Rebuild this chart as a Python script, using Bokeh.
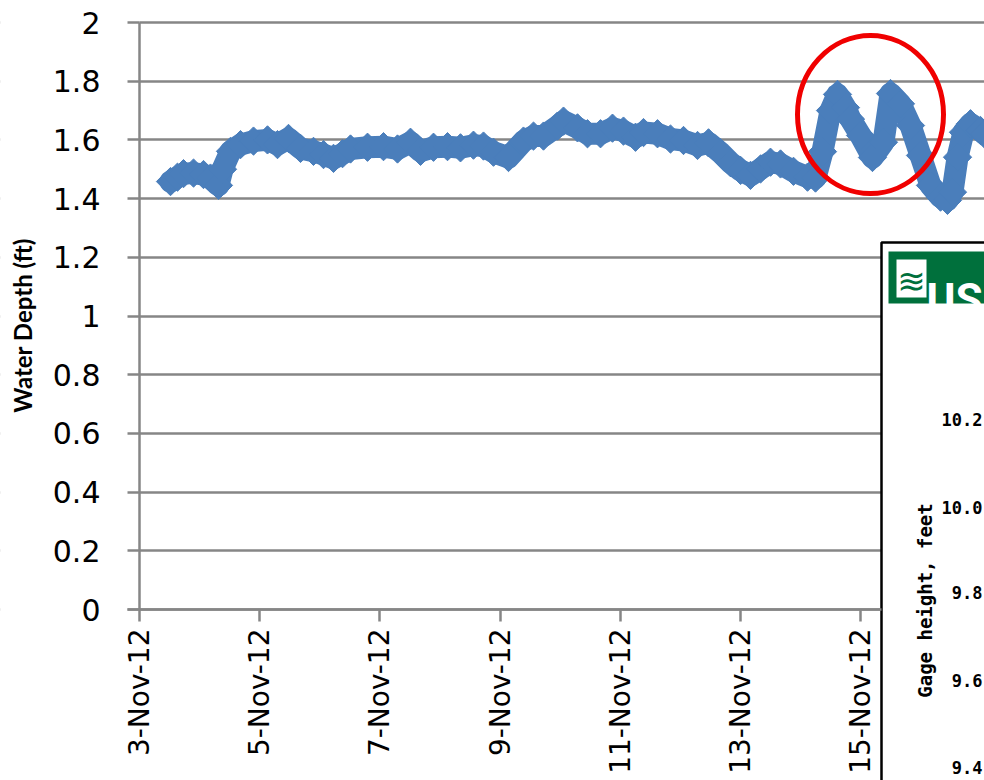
import numpy as np
from bokeh.plotting import figure
from bokeh.models import FixedTicker, NumeralTickFormatter, Range1d
from bokeh.core.properties import value
from bokeh.embed import file_html
from bokeh.resources import INLINE

# ---- data: water depth (ft) against day of November 2012 ----
day = [3.516, 3.632, 3.732, 3.899, 4.065, 4.181, 4.314, 4.381, 4.514, 4.681,
       4.897, 5.130, 5.296, 5.479, 5.679, 5.895, 6.062, 6.228, 6.378, 6.511,
       6.794, 7.060, 7.293, 7.509, 7.676, 7.892, 8.125, 8.341, 8.557, 8.724,
       8.890, 9.140, 9.389, 9.556, 9.722, 9.955, 10.055, 10.288, 10.454, 10.671,
       10.870, 11.053, 11.253, 11.386, 11.619, 11.835, 12.052, 12.285, 12.468, 12.669,
       12.835, 13.002, 13.166, 13.334, 13.499, 13.666, 13.882, 14.115, 14.248, 14.364,
       14.498, 14.614, 14.747, 14.830, 14.997, 15.196, 15.379, 15.496, 15.662, 15.829,
       15.995, 16.161, 16.328, 16.444, 16.527, 16.611, 16.710, 16.827, 16.993, 17.060]
depth = [1.458, 1.473, 1.485, 1.487, 1.482, 1.470, 1.445, 1.500, 1.561, 1.584,
         1.596, 1.600, 1.584, 1.605, 1.571, 1.561, 1.550, 1.537, 1.553, 1.569,
         1.575, 1.577, 1.569, 1.592, 1.561, 1.575, 1.577, 1.573, 1.582, 1.579,
         1.558, 1.540, 1.596, 1.613, 1.613, 1.647, 1.664, 1.641, 1.621, 1.621,
         1.640, 1.630, 1.609, 1.625, 1.621, 1.603, 1.598, 1.581, 1.590, 1.556,
         1.522, 1.496, 1.479, 1.501, 1.524, 1.518, 1.493, 1.473, 1.470, 1.560,
         1.700, 1.755, 1.710, 1.671, 1.615, 1.540, 1.592, 1.758, 1.723, 1.649,
         1.547, 1.445, 1.405, 1.394, 1.422, 1.541, 1.626, 1.655, 1.632, 1.620]

x_ticks = [3, 5, 7, 9, 11, 13, 15]
x_tick_labels = ["3-Nov-12", "5-Nov-12", "7-Nov-12", "9-Nov-12",
                 "11-Nov-12", "13-Nov-12", "15-Nov-12"]
y_ticks = [0, 0.2, 0.4, 0.6, 0.8, 1, 1.2, 1.4, 1.6, 1.8, 2]
inset_ticks = ["10.2", "10.0", "9.8", "9.6", "9.4"]

# ---- layout helpers (canvas pixel -> data) for decorations ----
PX_DAY = 60.1
PX_FT = 293.5
X0_PX, Y0_PX = 139, 609
W, H = 984, 780


def fx(px):
    return 3 + (px - X0_PX) / PX_DAY


def fy(py):
    return (Y0_PX - py) / PX_FT


GRID = "#868686"
BLUE = "#4A7EBB"
GREEN = "#00703C"

p = figure(width=W, height=H, output_backend="svg", toolbar_location=None,
           x_range=Range1d(fx(0), fx(W)), y_range=Range1d(fy(H), fy(0)),
           min_border=0)
p.outline_line_color = None
p.background_fill_color = "white"
p.border_fill_color = "white"

# grid
p.xgrid.visible = False
p.ygrid.ticker = FixedTicker(ticks=y_ticks)
p.ygrid.grid_line_color = GRID
p.ygrid.grid_line_width = 2.5

# y axis, placed at 3-Nov
ya = p.yaxis[0]
ya.fixed_location = 3
ya.ticker = FixedTicker(ticks=y_ticks)
ya.formatter = NumeralTickFormatter(format="0.[0]")
ya.bounds = (0, 2)
ya.axis_line_color = GRID
ya.axis_line_width = 2.5
ya.major_tick_line_color = GRID
ya.major_tick_line_width = 2.5
ya.major_tick_out = 12
ya.major_tick_in = 0
ya.minor_tick_line_color = None
ya.major_label_text_font = "DejaVu Sans"
ya.major_label_text_font_size = "30px"
ya.major_label_text_color = "black"
ya.major_label_standoff = 27

# x axis, placed at depth 0
xa = p.xaxis[0]
xa.fixed_location = 0
xa.ticker = FixedTicker(ticks=x_ticks)
xa.major_label_overrides = {t: l for t, l in zip(x_ticks, x_tick_labels)}
xa.major_label_orientation = np.pi / 2
xa.bounds = (fx(127), fx(881))
xa.axis_line_color = GRID
xa.axis_line_width = 2.5
xa.major_tick_line_color = GRID
xa.major_tick_line_width = 2.5
xa.major_tick_out = 12
xa.major_tick_in = 0
xa.minor_tick_line_color = None
xa.major_label_text_font = "DejaVu Sans"
xa.major_label_text_font_size = "28px"
xa.major_label_text_color = "black"
xa.major_label_standoff = 7

# white margin left of the plot area (hides grid lines there)
p.quad(left=[fx(-10)], right=[fx(X0_PX)], bottom=[fy(H + 10)], top=[fy(-10)],
       fill_color="white", line_color=None)

# series
p.line(day, depth, line_width=22, line_color=BLUE, line_join="round", line_cap="round")
p.scatter(day, depth, marker="square", angle=np.pi / 4, size=20,
          fill_color=BLUE, line_color=BLUE)

# red circle highlight
p.ellipse(x=[fx(870)], y=[fy(114)], width=146, height=158,
          width_units="screen", height_units="screen",
          fill_color=None, line_color="#F00000", line_width=5)

# y axis title
p.text(x=[fx(22)], y=[fy(325)], text=["Water Depth (ft)"], angle=np.pi / 2,
       text_align="center", text_baseline="middle", text_color="black",
       text_font=value("Lato"), text_font_style="bold", text_font_size="24px")

# ---- inset (USGS gage graph) ----
p.quad(left=[fx(881)], right=[fx(1010)], top=[fy(242)], bottom=[fy(820)],
       fill_color="white", line_color="black", line_width=2.5)
p.quad(left=[fx(888)], right=[fx(1010)], top=[fy(251)], bottom=[fy(303)],
       fill_color=GREEN, line_color=None)
p.quad(left=[fx(896)], right=[fx(926)], top=[fy(259)], bottom=[fy(297)],
       fill_color="white", line_color=None)
p.text(x=[fx(911)], y=[fy(280)], text=["\u224b"], text_align="center",
       text_baseline="middle", text_color=GREEN,
       text_font=value("DejaVu Sans"), text_font_size="34px")
p.text(x=[fx(982)], y=[fy(299)], text=["US"], text_align="right",
       text_baseline="alphabetic", text_color="white",
       text_font=value("Roboto"), text_font_style="bold",
       text_font_size="44px")

inset_y_px = [419, 507, 592, 680, 767]
p.text(x=[fx(982)] * len(inset_ticks), y=[fy(v) for v in inset_y_px], text=inset_ticks,
       text_align="right", text_baseline="middle", text_color="black",
       text_font=value("DejaVu Sans Mono"), text_font_style="bold",
       text_font_size="17px")
p.text(x=[fx(924)], y=[fy(600)], text=["Gage height, feet"], angle=np.pi / 2,
       text_align="center", text_baseline="middle", text_color="black",
       text_font=value("DejaVu Sans Mono"), text_font_style="bold",
       text_font_size="19px")

open("out.html", "w").write(file_html(p, INLINE))
